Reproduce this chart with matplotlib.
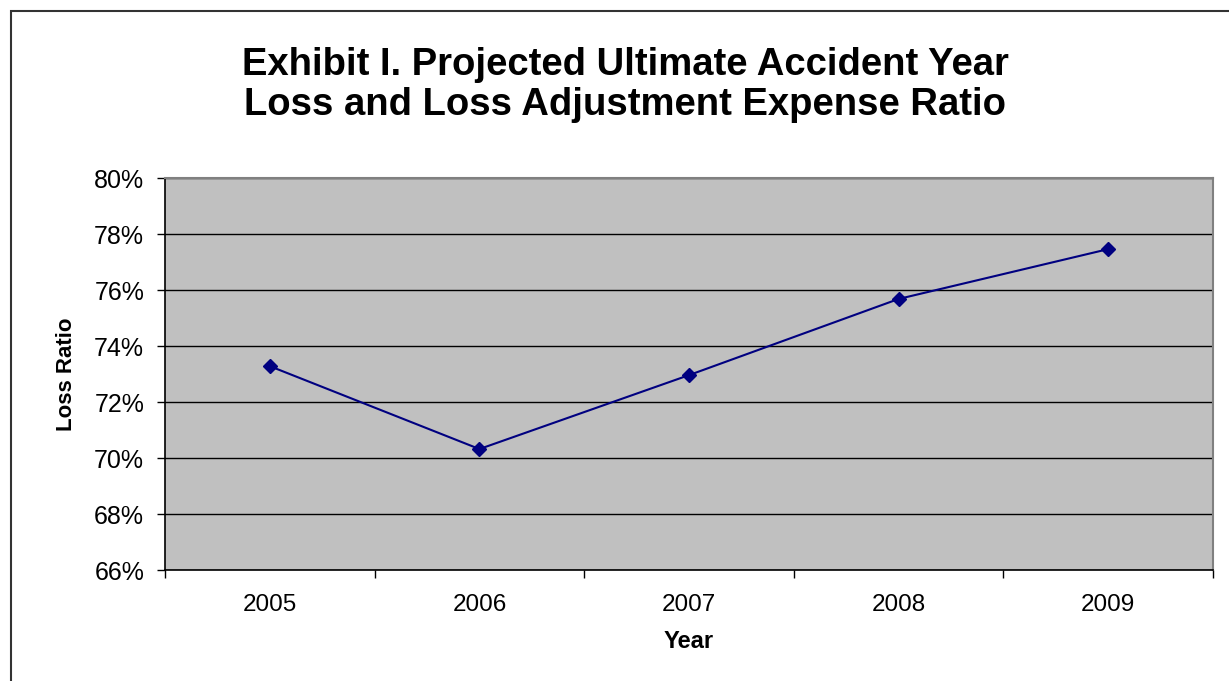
import matplotlib
matplotlib.use("Agg")
import matplotlib.pyplot as plt
from matplotlib.patches import Rectangle
from matplotlib.ticker import FuncFormatter, MultipleLocator

years = ["2005", "2006", "2007", "2008", "2009"]
loss_ratio = [73.28, 70.32, 72.96, 75.68, 77.46]

plt.rcParams['font.family'] = ['Liberation Sans', 'DejaVu Sans']

fig = plt.figure(figsize=(12.29, 6.81), dpi=100)
fig.patches.append(Rectangle((11 / 1229, -0.05), 1.2, 1 - 11 / 681 + 0.05,
                             transform=fig.transFigure, fill=False,
                             edgecolor='#333333', linewidth=1.5))

ax = fig.add_axes([165 / 1229, 1 - 570 / 681, (1213 - 165) / 1229, (570 - 178) / 681])
ax.set_facecolor('#c0c0c0')

x = list(range(len(years)))
ax.plot(x, loss_ratio, color='#000080', linewidth=1.5, marker='D', markersize=7,
        markerfacecolor='#000080', markeredgecolor='#000080', zorder=3)

ax.set_xlim(-0.5, len(years) - 0.5)
ax.set_ylim(66, 80)
ax.yaxis.set_major_locator(MultipleLocator(2))
ax.yaxis.set_major_formatter(FuncFormatter(lambda v, p: f"{v:.0f}%"))
ax.grid(axis='y', color='black', linewidth=1)
ax.set_axisbelow(True)

ax.set_xticks([i - 0.5 for i in range(len(years) + 1)])
ax.set_xticklabels([])
ax.set_xticks(x, minor=True)
ax.set_xticklabels(years, minor=True)
ax.tick_params(axis='x', which='minor', length=0, pad=17, labelsize=17.5)
ax.tick_params(axis='x', which='major', direction='out', length=6, width=1)
ax.tick_params(axis='y', direction='out', length=6, width=1, labelsize=18, pad=9)

for s in ['top', 'right']:
    ax.spines[s].set_color('#808080')
    ax.spines[s].set_linewidth(1.5)
for s in ['left', 'bottom']:
    ax.spines[s].set_color('black')
    ax.spines[s].set_linewidth(1.2)

ax.set_xlabel('Year', fontsize=17, fontweight='bold', labelpad=10)
ax.set_ylabel('Loss Ratio', fontsize=16, fontweight='bold', labelpad=12)

fig.text(625 / 1229, 1 - 85 / 681,
         'Exhibit I. Projected Ultimate Accident Year\nLoss and Loss Adjustment Expense Ratio',
         ha='center', va='center', fontsize=27.5, fontweight='bold', linespacing=1.17)

fig.savefig('out.png', dpi=100)
